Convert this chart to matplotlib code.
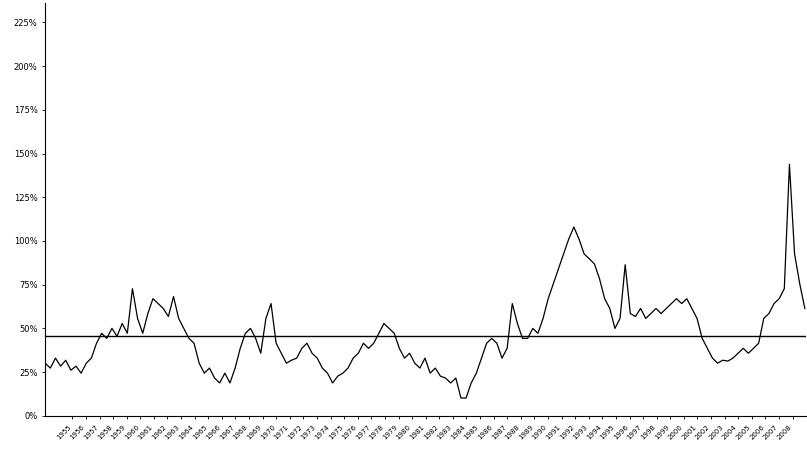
import matplotlib
matplotlib.use("Agg")
import matplotlib.pyplot as plt
import numpy as np

# series values (%) at equal time steps
values = [30.1, 27.3, 33.0, 28.4, 31.8, 26.1, 28.4, 24.4, 30.1, 33.0,
          41.5, 47.2, 44.3, 50.0, 45.5, 52.8, 47.2, 72.7, 55.7, 47.2,
          58.5, 67.0, 64.2, 61.4, 56.8, 68.2, 55.7, 50.0, 44.3, 41.5,
          30.1, 24.4, 27.3, 21.6, 18.8, 24.4, 18.8, 27.3, 38.6, 47.2,
          50.0, 44.3, 35.8, 55.7, 64.2, 41.5, 35.8, 30.1, 31.8, 33.0,
          38.6, 41.5, 35.8, 33.0, 27.3, 24.4, 18.8, 22.7, 24.4, 27.3,
          33.0, 35.8, 41.5, 38.6, 41.5, 47.2, 52.8, 50.0, 47.2, 38.6,
          33.0, 35.8, 30.1, 27.3, 33.0, 24.4, 27.3, 22.7, 21.6, 18.8,
          21.6, 10.2, 10.2, 18.8, 24.4, 33.0, 41.5, 44.3, 41.5, 33.0,
          38.6, 64.2, 52.8, 44.3, 44.3, 50.0, 47.2, 55.7, 67.0, 75.6,
          84.1, 92.6, 101.1, 108.0, 101.1, 92.6, 89.8, 86.9, 78.4, 67.0,
          61.4, 50.0, 55.7, 86.4, 58.5, 56.8, 61.4, 55.7, 58.5, 61.4,
          58.5, 61.4, 64.2, 67.0, 64.2, 67.0, 61.4, 55.7, 44.3, 38.6,
          33.0, 30.1, 31.8, 31.3, 33.0, 35.8, 38.6, 35.8, 38.6, 41.5,
          55.7, 58.5, 64.2, 67.0, 72.7, 143.8, 92.6, 75.6, 61.4]
average = 45.5
start_year = 1953.0
end_year = 2008.9
tick_years = list(range(1955, 2009))
y_ticks = [0, 25, 50, 75, 100, 125, 150, 175, 200, 225]
y_labels = ["0%", "25%", "50%", "75%", "100%", "125%", "150%", "175%", "200%", "225%"]

t = np.linspace(start_year, end_year, len(values))

fig = plt.figure(figsize=(8.07, 4.51), dpi=100)
ax = fig.add_axes([0.056, 0.078, 0.943, 0.915])
ax.plot(t, values, color="black", lw=0.9)
ax.axhline(average, color="black", lw=1.0)

ax.set_xlim(start_year, 2009)
ax.set_ylim(0, 236)
ax.set_yticks(y_ticks)
ax.set_yticklabels(y_labels, fontsize=6)
ax.set_xticks(tick_years)
ax.set_xticklabels([str(y) for y in tick_years], rotation=45, ha="right", fontsize=5)
ax.tick_params(length=2, width=0.6)
for s in ["top", "right"]:
    ax.spines[s].set_visible(False)
ax.spines["left"].set_linewidth(0.8)
ax.spines["bottom"].set_linewidth(0.8)

plt.savefig("out.png", dpi=100)
